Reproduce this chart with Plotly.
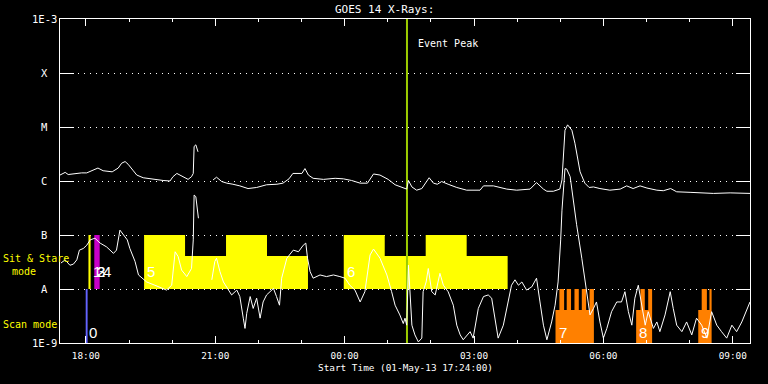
import pandas as pd
import plotly.graph_objects as go

START = pd.Timestamp("2013-05-01 17:24:00")
TOTAL_HOURS = 16

# ---- GOES long channel (1-8 A), hours since start / log10 flux (W m^-2)
long_hours = [0.00,0.12,0.19,0.30,0.42,0.50,0.62,0.77,0.88,1.00,1.21,1.35,1.43,1.51,1.58,1.69,1.78,1.93,2.16,2.39,
              2.55,2.62,2.71,2.78,2.90,2.97,3.05,3.09,3.11,3.15,3.20,3.37,3.55,3.63,3.75,3.87,4.01,4.17,4.36,4.56,
              4.79,5.03,5.17,5.31,5.40,5.61,5.68,5.76,5.87,6.11,6.38,6.57,6.76,6.96,7.13,7.27,7.42,7.61,7.77,7.96,
              8.04,8.08,8.16,8.27,8.39,8.56,8.66,8.75,8.85,9.00,9.20,9.43,9.74,9.82,10.05,10.36,10.59,10.90,11.05,11.21,
              11.29,11.44,11.59,11.64,11.71,11.77,11.87,11.94,12.06,12.17,12.27,12.37,12.52,12.75,12.99,13.14,13.29,13.45,13.61,13.84,
              13.99,14.16,14.30,14.61,15.15,15.54,16.00]
long_logflux = [-5.89,-5.84,-5.88,-5.87,-5.85,-5.85,-5.85,-5.80,-5.76,-5.81,-5.83,-5.76,-5.67,-5.64,-5.69,-5.80,-5.89,-5.94,-5.97,-5.99,
                -6.00,-5.92,-5.86,-5.89,-5.95,-5.97,-5.92,-5.86,-5.36,-5.33,-5.46,None,-5.98,-5.93,-6.01,-6.04,-6.06,-6.09,-6.14,-6.12,
                -6.07,-6.06,-6.04,-5.96,-5.86,-5.86,-5.77,-5.89,-5.95,-5.97,-5.95,-5.96,-5.99,-6.04,-6.04,-5.87,-5.89,-5.97,-6.07,-6.12,
                -6.15,-5.99,-6.11,-6.17,-6.14,-5.94,-6.04,-6.06,-6.01,-6.06,-6.12,-6.17,-6.17,-6.09,-6.09,-6.15,-6.17,-6.15,-6.03,-6.15,
                -6.19,-6.19,-6.15,-5.98,-5.06,-4.96,-5.06,-5.30,-5.83,-6.04,-6.12,-6.11,-6.14,-6.17,-6.15,-6.09,-6.14,-6.09,-6.13,-6.17,
                -6.18,-6.14,-6.20,-6.21,-6.23,-6.22,-6.23]

# ---- GOES short channel (0.5-4 A)
short_hours = [0.02,0.12,0.23,0.31,0.39,0.45,0.54,0.62,0.70,0.81,
               0.93,1.08,1.24,1.31,1.39,1.47,1.56,1.62,1.74,1.82,
               1.89,2.01,2.20,2.47,2.59,2.67,2.74,2.82,2.94,3.05,
               3.09,3.11,3.15,3.21,3.37,3.52,3.59,3.63,3.71,3.79,
               3.90,3.98,4.10,4.17,4.25,4.29,4.33,4.41,4.48,4.56,
               4.64,4.71,4.79,4.87,4.95,5.02,5.09,5.14,5.26,5.41,
               5.53,5.64,5.70,5.74,5.80,5.87,6.03,6.18,6.34,6.49,
               6.61,6.72,6.84,6.96,7.07,7.19,7.27,7.42,7.58,7.69,
               7.77,7.88,7.96,8.00,8.04,8.08,8.12,8.16,8.23,8.31,
               8.39,8.42,8.49,8.54,8.62,8.70,8.81,8.89,9.00,9.12,
               9.20,9.28,9.35,9.51,9.58,9.70,9.82,9.93,10.01,10.09,
               10.16,10.28,10.36,10.47,10.55,10.63,10.71,10.82,10.94,11.05,
               11.13,11.21,11.29,11.40,11.48,11.55,11.61,11.64,11.71,11.75,
               11.83,11.90,11.98,12.10,12.21,12.29,12.37,12.44,12.52,12.60,
               12.68,12.79,12.91,13.02,13.10,13.18,13.26,13.33,13.41,13.49,
               13.57,13.64,13.76,13.84,13.91,14.03,14.15,14.22,14.30,14.42,
               14.53,14.65,14.76,14.88,15.00,15.11,15.23,15.34,15.46,15.58,
               15.69,15.81,15.88,15.96,16.00]
short_logflux = [-7.52,-7.46,-7.56,-7.54,-7.46,-7.28,-7.25,-7.19,-7.09,-7.06,
                 -7.15,-7.22,-7.34,-7.28,-6.91,-7.00,-7.09,-7.25,-7.49,-7.74,
                 -7.79,-7.87,-7.93,-8.02,-7.93,-7.31,-7.40,-7.65,-7.77,-7.62,
                 -7.09,-6.26,-6.29,-6.69,None,-7.83,-7.49,-7.43,-7.68,-7.87,
                 -8.02,-8.11,-8.02,-8.14,-8.54,-8.73,-8.45,-8.14,-8.36,-8.17,
                 -8.54,-8.24,-8.11,-8.05,-7.99,-8.14,-8.30,-7.80,-7.43,-7.28,
                 -7.31,-7.19,-7.15,-7.43,-7.68,-7.80,-7.74,-7.77,-7.74,-7.77,
                 -7.80,-7.93,-8.02,-8.24,-8.05,-7.37,-7.26,-7.43,-7.74,-8.05,
                 -8.30,-8.48,-8.64,-8.54,-8.67,-7.56,-8.05,-8.67,-8.85,-8.98,
                 -8.91,-8.05,-7.87,-7.62,-8.05,-8.11,-7.71,-7.93,-8.05,-8.30,
                 -8.67,-8.85,-8.94,-8.79,-8.91,-8.36,-8.14,-8.11,-8.17,-8.54,
                 -8.91,-8.67,-8.36,-7.93,-7.83,-7.93,-7.87,-8.02,-7.96,-7.80,
                 -8.24,-8.67,-8.94,-8.61,-8.30,-7.87,-7.09,-6.54,-5.77,-5.78,
                 -5.92,-6.35,-6.81,-7.43,-8.05,-8.48,-8.36,-8.24,-8.61,-8.91,
                 -8.73,-8.42,-8.24,-8.24,-8.05,-8.42,-8.67,-8.17,-7.93,-8.30,
                 -8.67,-8.42,-8.73,-8.61,-8.79,-8.48,-8.05,-8.36,-8.67,-8.79,
                 -8.61,-8.85,-8.54,-8.67,-8.91,-8.42,-8.67,-8.79,-8.91,-8.67,
                 -8.79,-8.61,-8.48,-8.30,-8.24]

# ---- Observation blocks (hours since start); height as fraction of a decade
ss_yellow_start = [0.66, 1.95, 2.90, 3.85, 4.80, 6.58, 7.53, 8.48, 9.43]
ss_yellow_end   = [0.71, 2.90, 3.85, 4.80, 5.75, 7.53, 8.48, 9.43, 10.38]
ss_yellow_frac  = [1.0, 1.0, 0.61, 1.0, 0.61, 1.0, 0.61, 1.0, 0.61]

ss_magenta_start = [0.795]
ss_magenta_end   = [0.92]
ss_magenta_frac  = [1.0]

scan_blue_start = [0.596]
scan_blue_end   = [0.640]
scan_blue_frac  = [1.0]

scan_orange_start = [11.49, 11.58, 11.75, 11.93, 12.10, 12.28, 13.36, 13.46, 13.64, 14.80, 14.88, 15.06]
scan_orange_end   = [12.38, 11.69, 11.85, 12.03, 12.20, 12.38, 13.73, 13.56, 13.73, 15.11, 15.00, 15.11]
scan_orange_frac  = [0.61, 1.0, 1.0, 1.0, 1.0, 1.0, 0.61, 1.0, 1.0, 0.61, 1.0, 1.0]

obs_ids   = ["0", "1", "2", "3", "4", "5", "6", "7", "8", "9"]
obs_hours = [0.60, 0.69, 0.78, 0.78, 0.92, 1.95, 6.58, 11.49, 13.36, 14.80]
obs_mode  = ["scan", "ss", "ss", "ss", "ss", "ss", "ss", "scan", "scan", "scan"]

event_peak_hours = 8.046

flare_classes = ["1E-9", "A", "B", "C", "M", "X", "1E-3"]
class_logflux = [-9, -8, -7, -6, -5, -4, -3]

SS_BASE = -8     # sit & stare band: A..B
SCAN_BASE = -9   # scan band: 1E-9..A


def t(h):
    return START + pd.Timedelta(hours=h)


def blocks_trace(starts, ends, fracs, base, color):
    xs, ys = [], []
    for s, e, f in zip(starts, ends, fracs):
        lo, hi = 10 ** base, 10 ** (base + f)
        xs += [t(s), t(s), t(e), t(e), t(s), None]
        ys += [lo, hi, hi, lo, lo, None]
    return go.Scatter(x=xs, y=ys, mode="lines", fill="toself", fillcolor=color,
                      line=dict(width=0, color=color), hoverinfo="skip", showlegend=False)


fig = go.Figure()
fig.add_trace(blocks_trace(ss_yellow_start, ss_yellow_end, ss_yellow_frac, SS_BASE, "#ffff00"))
fig.add_trace(blocks_trace(ss_magenta_start, ss_magenta_end, ss_magenta_frac, SS_BASE, "#c800c8"))
fig.add_trace(blocks_trace(scan_blue_start, scan_blue_end, scan_blue_frac, SCAN_BASE, "#6464ff"))
fig.add_trace(blocks_trace(scan_orange_start, scan_orange_end, scan_orange_frac, SCAN_BASE, "#ff8000"))

# Event peak line
fig.add_trace(go.Scatter(x=[t(event_peak_hours), t(event_peak_hours)], y=[1e-9, 1e-3], mode="lines",
                         line=dict(color="#9ccc00", width=2), hoverinfo="skip", showlegend=False))

fig.add_trace(go.Scatter(x=[t(h) for h in long_hours],
                         y=[None if v is None else 10 ** v for v in long_logflux],
                         mode="lines", line=dict(color="white", width=1), connectgaps=False, showlegend=False))
fig.add_trace(go.Scatter(x=[t(h) for h in short_hours],
                         y=[None if v is None else 10 ** v for v in short_logflux],
                         mode="lines", line=dict(color="white", width=1), connectgaps=False, showlegend=False))

MONO = "DejaVu Sans Mono"
NUMF = "Liberation Sans"
W, H = 768, 384
L, R, T, B = 60, 18, 19, 41
PW, PH = W - L - R, H - T - B


def px(xp):
    return (xp - L) / PW


def py(yp):
    return (H - B - yp) / PH


ann = []
# y-axis class labels
for lab, lv in zip(flare_classes, class_logflux):
    ann.append(dict(x=px(44), xref="paper", y=lv, yref="y", text=lab, showarrow=False,
                    xanchor="center", yanchor="middle", font=dict(family=MONO, size=10.5, color="white")))
# block ids
for oid, oh, om in zip(obs_ids, obs_hours, obs_mode):
    yv = -7.685 if om == "ss" else -8.80
    ann.append(dict(x=t(oh), xref="x", y=yv, yref="y", text=oid, showarrow=False, xanchor="left",
                    xshift=1, yanchor="middle", font=dict(family=NUMF, size=15, color="white")))
ann += [
    dict(x=px(384), xref="paper", y=py(9), yref="paper", text="GOES 14 X-Rays:", showarrow=False,
         xanchor="center", yanchor="middle", font=dict(family=MONO, size=11, color="white")),
    dict(x=t(event_peak_hours), xref="x", xshift=9, y=py(43), yref="paper", text="Event Peak", showarrow=False,
         xanchor="left", yanchor="middle", font=dict(family=MONO, size=10, color="white")),
    dict(x=px(405), xref="paper", y=py(368), yref="paper", text="Start Time (01-May-13 17:24:00)", showarrow=False,
         xanchor="center", yanchor="middle", font=dict(family=MONO, size=9.4, color="white")),
    dict(x=px(1), xref="paper", y=py(258), yref="paper", text="Sit & Stare", showarrow=False,
         xanchor="left", yanchor="middle", font=dict(family=MONO, size=10, color="#ffff00")),
    dict(x=px(24), xref="paper", y=py(271), yref="paper", text="mode", showarrow=False,
         xanchor="center", yanchor="middle", font=dict(family=MONO, size=10, color="#ffff00")),
    dict(x=px(1), xref="paper", y=py(324), yref="paper", text="Scan mode", showarrow=False,
         xanchor="left", yanchor="middle", font=dict(family=MONO, size=10, color="#ffff00")),
]

fig.update_layout(
    width=W, height=H, autosize=False,
    margin=dict(l=L, r=R, t=T, b=B, pad=0),
    paper_bgcolor="black", plot_bgcolor="black",
    showlegend=False, annotations=ann,
    xaxis=dict(type="date", range=[t(0), t(TOTAL_HOURS)],
               tick0="2013-05-01 18:00", dtick=3 * 3600000, tickformat="%H:%M",
               ticks="inside", ticklen=7, tickcolor="white", tickwidth=1,
               minor=dict(ticks="inside", ticklen=3, tickcolor="white", tickwidth=1,
                          dtick=3600000, tick0="2013-05-01 18:00", showgrid=False),
               showline=True, linecolor="white", linewidth=1, mirror="allticks",
               showgrid=False, zeroline=False, ticklabelstandoff=4,
               tickfont=dict(family=MONO, size=9.4, color="white")),
    yaxis=dict(type="log", range=[-9, -3], tickvals=[10 ** v for v in class_logflux],
               showticklabels=False, ticks="inside", ticklen=14, tickcolor="white", tickwidth=1,
               showline=True, linecolor="white", linewidth=1, mirror="allticks",
               showgrid=True, gridcolor="white", gridwidth=1, griddash="1px,5px", zeroline=False),
)

fig.write_html("out.html", config={"displayModeBar": False},
               post_script="document.body.style.margin='0';document.body.style.background='black';")
